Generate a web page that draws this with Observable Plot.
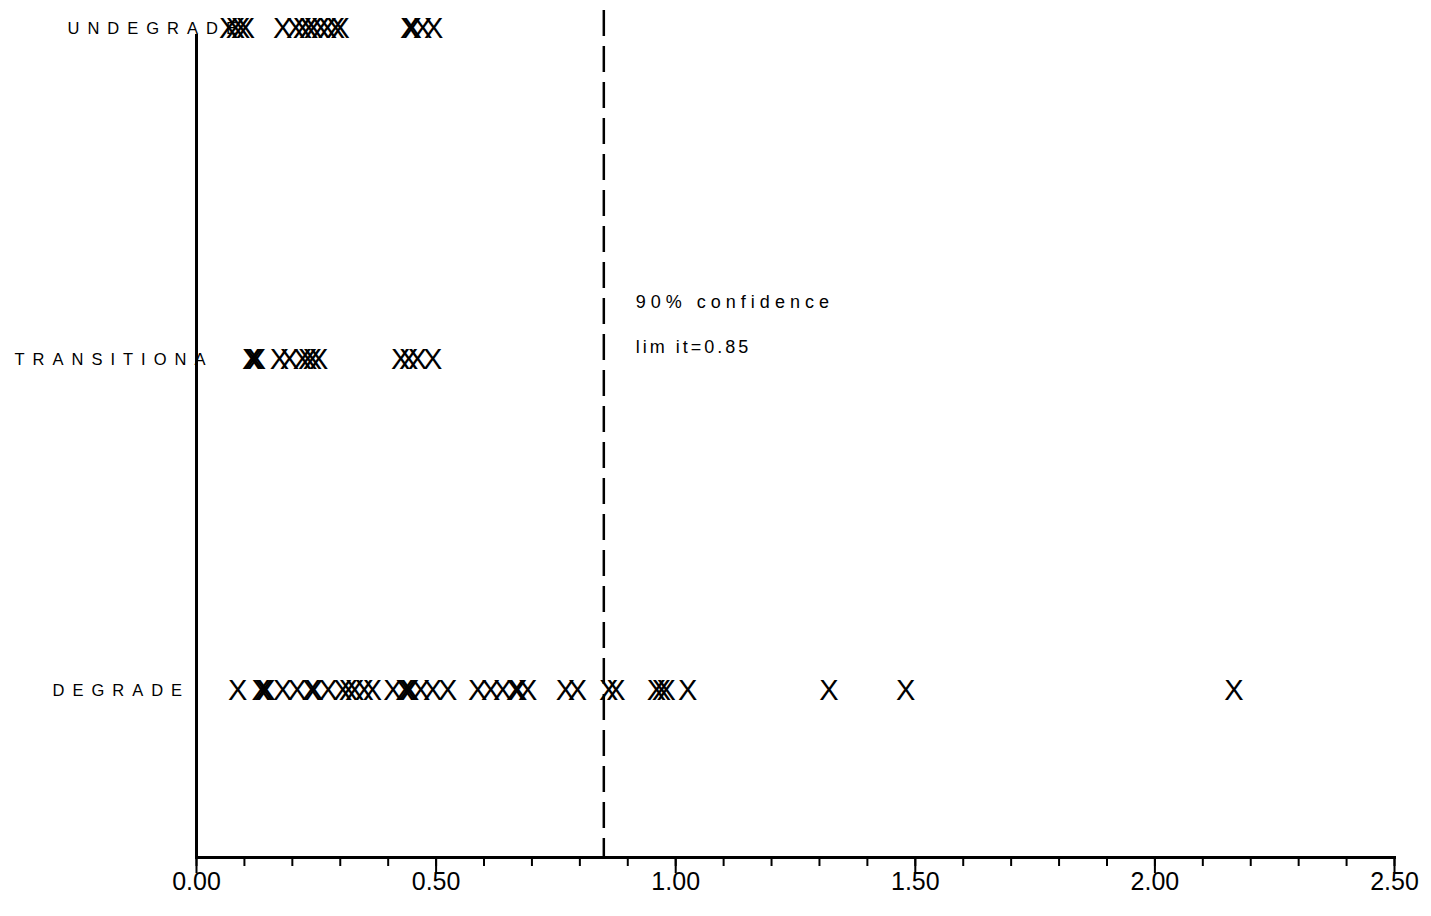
<!DOCTYPE html>
<html>
<head>
<meta charset="utf-8">
<script src="https://cdn.jsdelivr.net/npm/d3@7"></script>
<script src="https://cdn.jsdelivr.net/npm/@observablehq/plot@0.6"></script>
<style>
  html, body { margin: 0; padding: 0; background: #fff; }
</style>
</head>
<body>
<div id="chart"></div>
<script>
const categories = ["UNDEGRADE", "TRANSITIONA", "DEGRADE"];
const undegradeValues = [0.067, 0.081, 0.092, 0.102, 0.18, 0.207, 0.221, 0.234, 0.244, 0.259, 0.273, 0.29, 0.30, 0.445, 0.45, 0.472, 0.495];
const transitionalValues = [0.115, 0.12, 0.125, 0.173, 0.194, 0.221, 0.232, 0.242, 0.255, 0.426, 0.443, 0.461, 0.493];
const degradeValues = [0.086, 0.135, 0.14, 0.145, 0.18, 0.21, 0.24, 0.245, 0.275, 0.305, 0.317, 0.33, 0.35, 0.367, 0.41, 0.435, 0.44, 0.445, 0.468, 0.493, 0.524, 0.587, 0.614, 0.639, 0.666, 0.67, 0.691, 0.77, 0.795, 0.86, 0.875, 0.96, 0.97, 0.98, 1.025, 1.32, 1.48, 2.165];
const confidenceLimit = 0.85;
const majorTicks = [0, 0.5, 1, 1.5, 2, 2.5];
const minorTicks = d3.range(0, 26).map(i => i / 10);
const annotationLines = ["90% confidence", "lim it=0.85"];

const points = [
  ...undegradeValues.map(v => ({cat: categories[0], v})),
  ...transitionalValues.map(v => ({cat: categories[1], v})),
  ...degradeValues.map(v => ({cat: categories[2], v}))
];

const font = "'Liberation Sans', Arial, sans-serif";

const chart = Plot.plot({
  width: 1431,
  height: 916,
  marginLeft: 196,
  marginRight: 37,
  marginTop: 35,
  marginBottom: 59,
  style: {background: "white", fontFamily: font, color: "black"},
  x: {domain: [0, 2.5], label: null},
  y: {type: "point", domain: categories, range: [28, 690], padding: 0, label: null},
  marks: [
    Plot.axisX({ticks: minorTicks, tickSize: 9, tickFormat: () => "", strokeWidth: 2, label: null}),
    Plot.axisX({ticks: majorTicks, tickSize: 16, tickPadding: -1, tickFormat: d3.format(".2f"), fontSize: 25, strokeWidth: 2, label: null}),
    Plot.axisY({ticks: [], label: null}),
    Plot.frame({anchor: "bottom", strokeWidth: 3}),
    Plot.frame({anchor: "left", strokeWidth: 3}),
    Plot.ruleX([confidenceLimit], {strokeWidth: 2.5, strokeDasharray: "26,10", insetTop: -25}),
    Plot.text(points, {x: "v", y: "cat", text: () => "X", fontSize: 29, fill: "black"}),
    Plot.text([categories[0]], {x: () => 0, y: d => d, text: d => d, textAnchor: "start", dx: -129, fontSize: 16.5, ariaDescription: "ylab"}),
    Plot.text([categories[1]], {x: () => 0, y: d => d, text: d => d, textAnchor: "start", dx: -182, fontSize: 16.5, ariaDescription: "ylab"}),
    Plot.text([categories[2]], {x: () => 0, y: d => d, text: d => d, textAnchor: "start", dx: -144, fontSize: 16.5, ariaDescription: "ylab"}),
    Plot.text([annotationLines[0]], {x: () => confidenceLimit, y: () => categories[1], text: d => d, textAnchor: "start", dx: 32, dy: -57, fontSize: 18, ariaDescription: "ann1"}),
    Plot.text([annotationLines[1]], {x: () => confidenceLimit, y: () => categories[1], text: d => d, textAnchor: "start", dx: 32, dy: -12, fontSize: 18, ariaDescription: "ann2"})
  ]
});

d3.select(chart).selectAll("g[aria-description=ylab] text").attr("letter-spacing", 8);
d3.select(chart).selectAll("g[aria-description=ann1] text").attr("letter-spacing", 5);
d3.select(chart).selectAll("g[aria-description=ann2] text").attr("letter-spacing", 3);

document.getElementById("chart").appendChild(chart);
</script>
</body>
</html>
